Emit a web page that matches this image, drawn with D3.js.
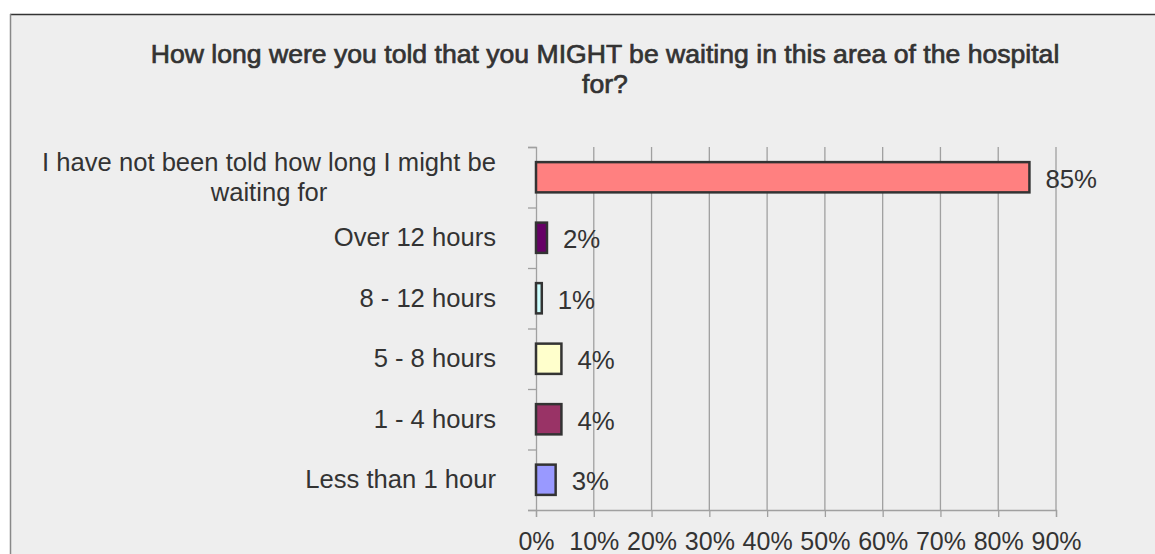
<!DOCTYPE html>
<html>
<head>
<meta charset="utf-8">
<script src="https://cdn.jsdelivr.net/npm/d3@7"></script>
<style>
  html, body { margin: 0; padding: 0; background: #ffffff; }
  svg { display: block; }
  text { font-family: "Liberation Sans", Arial, sans-serif; fill: #333333; }
</style>
</head>
<body>
<svg width="1155" height="554"></svg>
<script>
var titleLines = ["How long were you told that you MIGHT be waiting in this area of the hospital", "for?"];

var categories = [
  ["I have not been told how long I might be", "waiting for"],
  ["Over 12 hours"],
  ["8 - 12 hours"],
  ["5 - 8 hours"],
  ["1 - 4 hours"],
  ["Less than 1 hour"]
];
var values = [85.4, 1.9, 1.0, 4.4, 4.4, 3.4];
var valueLabels = ["85%", "2%", "1%", "4%", "4%", "3%"];
var barColors = ["#ff8080", "#660066", "#ccffff", "#ffffcc", "#993366", "#9999ff"];
var xTicks = [0, 10, 20, 30, 40, 50, 60, 70, 80, 90];

var svg = d3.select("svg"),
    plot = {left: 536, right: 1056, top: 147, bottom: 510};

// chart area background + border
svg.append("rect")
   .attr("x", 10).attr("y", 14)
   .attr("width", 1155 - 10).attr("height", 554 - 14)
   .attr("fill", "#eeeeee");
svg.append("line")
   .attr("x1", 10).attr("x2", 1155).attr("y1", 14.5).attr("y2", 14.5)
   .attr("stroke", "#333333").attr("stroke-width", 1.5);
svg.append("line")
   .attr("x1", 10.5).attr("x2", 10.5).attr("y1", 14).attr("y2", 554)
   .attr("stroke", "#888888").attr("stroke-width", 1.5);

// title
svg.append("text")
   .attr("x", 605).attr("y", 63)
   .attr("text-anchor", "middle")
   .style("font-size", "26.6px")
   .style("stroke", "#333333")
   .style("stroke-width", 0.7)
   .selectAll("tspan")
   .data(titleLines)
   .enter().append("tspan")
   .attr("x", 605)
   .attr("dy", function(d, i) { return i ? 29.5 : 0; })
   .text(function(d) { return d; });

var x = d3.scaleLinear().domain([0, 90]).range([plot.left, plot.right]);

var idx = d3.range(categories.length);
var y = d3.scaleBand()
          .domain(idx)
          .range([plot.top, plot.bottom])
          .paddingInner(0.5)
          .paddingOuter(0.25);
var slot = d3.scaleLinear().domain([0, categories.length]).range([plot.top, plot.bottom]);

// gridlines
svg.append("g")
   .selectAll("line")
   .data(xTicks.slice(1))
   .enter().append("line")
   .attr("x1", function(d) { return x(d); })
   .attr("x2", function(d) { return x(d); })
   .attr("y1", plot.top)
   .attr("y2", plot.bottom)
   .attr("stroke", "#a0a0a0")
   .attr("stroke-width", 1.3);

// x axis
var xAxis = svg.append("g")
   .attr("transform", "translate(0," + plot.bottom + ")")
   .call(d3.axisBottom(x).tickValues(xTicks).tickSize(7).tickPadding(15)
           .tickFormat(function(d) { return d + "%"; }));
xAxis.select(".domain").attr("stroke", "#a0a0a0").attr("stroke-width", 1.3);
xAxis.selectAll(".tick line").attr("stroke", "#a0a0a0").attr("stroke-width", 1.3);
xAxis.selectAll(".tick text")
     .style("font-size", "25px")
     .style("font-family", "'Liberation Sans', Arial, sans-serif")
     .attr("fill", "#333333");

// y axis with ticks between categories
var yAxis = svg.append("g")
   .attr("transform", "translate(" + plot.left + ",0)")
   .call(d3.axisLeft(slot).tickValues(d3.range(categories.length + 1)).tickSize(8).tickFormat(""));
yAxis.select(".domain").attr("stroke", "#a0a0a0").attr("stroke-width", 1.3);
yAxis.selectAll(".tick line").attr("stroke", "#a0a0a0").attr("stroke-width", 1.3);

// bars
svg.append("g")
   .selectAll("rect")
   .data(idx)
   .enter().append("rect")
   .attr("x", x(0))
   .attr("y", function(i) { return y(i); })
   .attr("width", function(i) { return x(values[i]) - x(0); })
   .attr("height", y.bandwidth())
   .attr("fill", function(i) { return barColors[i]; })
   .attr("stroke", "#333333")
   .attr("stroke-width", 2.5);

// data labels
svg.append("g")
   .selectAll("text")
   .data(idx)
   .enter().append("text")
   .attr("x", function(i) { return x(values[i]) + 16; })
   .attr("y", function(i) { return y(i) + y.bandwidth() / 2; })
   .attr("dy", "0.4em")
   .style("font-size", "25.8px")
   .text(function(i) { return valueLabels[i]; });

// category labels, block right-aligned, lines centred in the block
var labelRight = 496;
svg.append("g")
   .selectAll("text")
   .data(idx)
   .enter().append("text")
   .style("font-size", "25.6px")
   .attr("text-anchor", "middle")
   .each(function(i) {
     var t = d3.select(this),
         lines = categories[i],
         cy = y(i) + y.bandwidth() / 2,
         lh = 30;
     lines.forEach(function(l, k) {
       t.append("tspan")
        .attr("y", cy + (k - (lines.length - 1) / 2) * lh)
        .attr("dy", "0.34em")
        .text(l);
     });
     var w = d3.max(t.selectAll("tspan").nodes(), function(n) { return n.getComputedTextLength(); });
     t.selectAll("tspan").attr("x", labelRight - w / 2);
   });
</script>
</body>
</html>
